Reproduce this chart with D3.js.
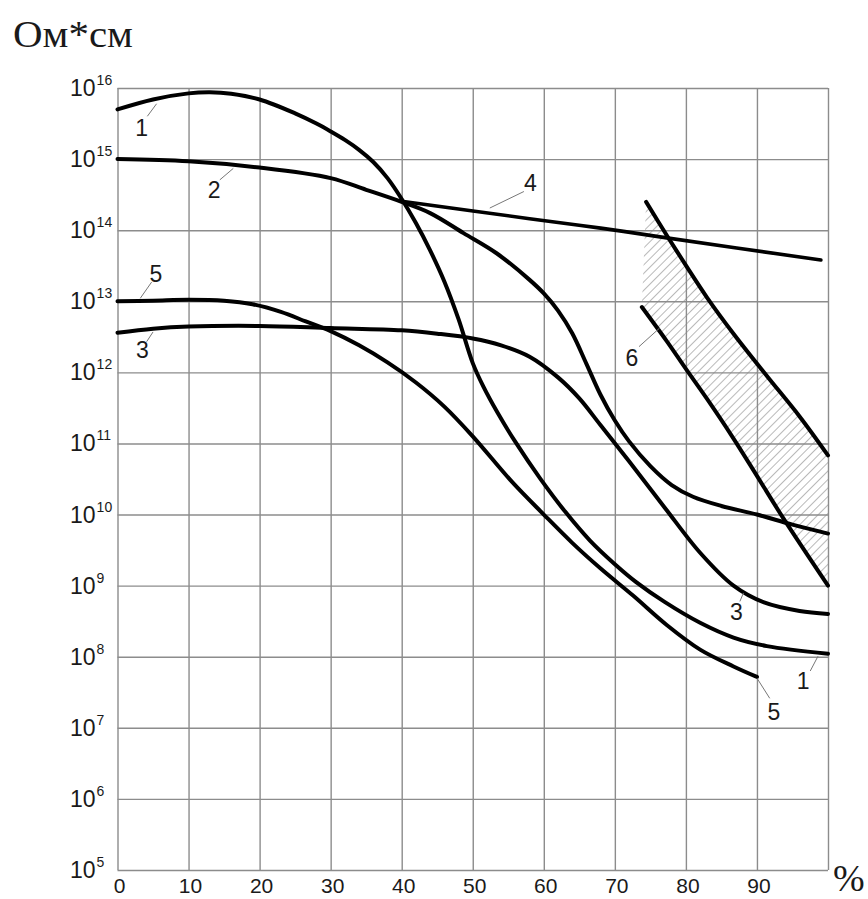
<!DOCTYPE html>
<html>
<head>
<meta charset="utf-8">
<script src="https://cdn.jsdelivr.net/npm/d3@7"></script>
<style>
  html, body { margin: 0; padding: 0; background: #fff; }
  svg { display: block; }
</style>
</head>
<body>
<svg id="chart" width="868" height="899"></svg>
<script>
// Resistivity (Ом*см) against content (%), log scale
const xTicks = [0, 10, 20, 30, 40, 50, 60, 70, 80, 90];
const yExponents = [5, 6, 7, 8, 9, 10, 11, 12, 13, 14, 15, 16];

const curve1 = [[0, 5.0e15], [5, 6.9e15], [10, 8.4e15], [13, 8.7e15], [16, 8.3e15], [20, 6.9e15],
  [25, 4.4e15], [28, 3.16e15], [30, 2.45e15], [32, 1.86e15], [34, 1.35e15], [36, 9.1e14],
  [38, 5.4e14], [40, 2.75e14], [42, 1.26e14], [44, 5.2e13], [46, 1.9e13], [48, 5.6e12],
  [50, 1.35e12], [51.5, 6.3e11], [53.5, 2.7e11], [56, 1.05e11], [59.5, 3.2e10], [63, 1.1e10],
  [66.5, 4.3e9], [70, 2.0e9], [73, 1.12e9], [77, 5.9e8], [82, 3.0e8], [86.7, 1.86e8],
  [91.4, 1.41e8], [100, 1.1e8]];

const curve2 = [[0, 1.0e15], [10, 9.3e14], [20, 7.6e14], [30, 5.4e14], [35, 3.7e14], [40, 2.5e14],
  [44, 1.74e14], [48.7, 9.1e13], [53.4, 4.7e13], [58, 2.0e13], [60, 1.29e13], [62, 7.4e12],
  [64, 3.55e12], [66, 1.32e12], [68, 4.8e11], [70, 2.1e11], [72, 1.07e11], [75, 4.8e10],
  [78, 2.6e10], [81, 1.78e10], [85, 1.32e10], [90, 1.0e10], [95, 7.2e9], [100, 5.4e9]];

const curve3 = [[0, 3.6e12], [5, 4.1e12], [10, 4.4e12], [20, 4.5e12], [30, 4.2e12], [40, 3.9e12],
  [45, 3.5e12], [50, 3.0e12], [54, 2.4e12], [58, 1.66e12], [62, 8.5e11], [65, 4.3e11], [68, 1.8e11],
  [72, 5.6e10], [77, 1.26e10], [82, 2.9e9], [86.7, 1.0e9], [91, 5.8e8], [96, 4.4e8], [100, 4.0e8]];

const curve4 = [[40, 2.55e14], [58, 1.45e14], [68, 1.07e14], [77.3, 7.8e13], [99, 3.8e13]];

const curve5 = [[0, 1.0e13], [5, 1.02e13], [10, 1.05e13], [15, 1.02e13], [19, 9.1e12], [23, 7.1e12],
  [26.5, 5.2e12], [30, 3.8e12], [34, 2.4e12], [38, 1.38e12], [42, 7.2e11], [46, 3.3e11],
  [50, 1.26e11], [55.5, 2.9e10], [60, 1.0e10], [64, 4.0e9], [68, 1.74e9], [72.6, 7.2e8],
  [77.3, 2.8e8], [82, 1.26e8], [86.7, 7.3e7], [90, 5.2e7]];

// band 6: upper and lower bounds
const curve6Upper = [[74.4, 2.5e14], [77.3, 8.5e13], [80, 3.2e13], [83, 1.12e13], [86.7, 3.5e12],
  [91.4, 8.9e11], [96, 2.4e11], [100, 6.8e10]];
const curve6Lower = [[73.8, 8.3e12], [77.3, 2.75e12], [80, 1.12e12], [83, 4.2e11], [86.5, 1.26e11],
  [90, 3.5e10], [93.7, 8.9e9], [100, 1.0e9]];

// curve numbers: text, text centre, leader start, leader end (data units)
const curveLabels = [
  { text: "1", at: [3.4, 2.75e15], from: [4.2, 4.0e15], to: [5.5, 6.0e15] },
  { text: "2", at: [13.6, 3.7e14], from: [14.4, 5.1e14], to: [16.3, 7.4e14] },
  { text: "5", at: [5.4, 2.45e13], from: [4.8, 1.86e13], to: [3.2, 1.1e13] },
  { text: "3", at: [3.5, 2.1e12], from: [4.1, 2.7e12], to: [5.0, 3.7e12] },
  { text: "4", at: [58.1, 4.6e14], from: [57.2, 3.5e14], to: [52.4, 2.05e14] },
  { text: "6", at: [72.4, 1.6e12], from: [73.4, 2.3e12], to: [76.3, 4.2e12] },
  { text: "3", at: [87.1, 4.3e8], from: [87.6, 6.0e8], to: [88.1, 7.9e8] },
  { text: "1", at: [96.5, 4.6e7], from: [97.5, 6.3e7], to: [98.6, 1.02e8] },
  { text: "5", at: [92.4, 1.7e7], from: [91.8, 2.6e7], to: [90.0, 5.0e7] }
];

const svg = d3.select("#chart");
const plotLeft = 117.5, plotRight = 828, plotTop = 88, plotBottom = 870;

const x = d3.scaleLinear().domain([0, 100]).range([plotLeft, plotRight]);
const y = d3.scaleLog().domain([1e5, 1e16]).range([plotBottom, plotTop]);

// grid
const gridColor = "#8c8c8c";
svg.append("g")
  .attr("transform", `translate(0,${plotBottom})`)
  .call(d3.axisBottom(x).tickValues(d3.range(0, 101, 10)).tickSize(-(plotBottom - plotTop)).tickFormat(""))
  .call(g => g.select(".domain").remove())
  .call(g => g.selectAll("line").attr("stroke", gridColor).attr("stroke-width", 1.4));

svg.append("g")
  .attr("transform", `translate(${plotLeft},0)`)
  .call(d3.axisLeft(y).tickValues(yExponents.map(e => Math.pow(10, e))).tickSize(-(plotRight - plotLeft)).tickFormat(""))
  .call(g => g.select(".domain").remove())
  .call(g => g.selectAll("line").attr("stroke", gridColor).attr("stroke-width", 1.4));

// hatched region of band 6
const defs = svg.append("defs");
defs.append("pattern")
  .attr("id", "hatch")
  .attr("patternUnits", "userSpaceOnUse")
  .attr("width", 6).attr("height", 6)
  .attr("patternTransform", "rotate(45)")
  .append("line")
  .attr("x1", 0).attr("y1", 0).attr("x2", 0).attr("y2", 6)
  .attr("stroke", "#8a8a8a").attr("stroke-width", 1.2);

const line = d3.line()
  .x(d => x(d[0]))
  .y(d => y(d[1]))
  .curve(d3.curveCatmullRom.alpha(0.5));

const upperPath = line(curve6Upper);
const lowerPath = line(curve6Lower.slice().reverse());
svg.append("path")
  .attr("d", upperPath + "L" + lowerPath.slice(1) + "Z")
  .attr("fill", "url(#hatch)")
  .attr("stroke", "none");

// curves
const curves = [curve1, curve2, curve3, curve4, curve5, curve6Upper, curve6Lower];
svg.append("g")
  .selectAll("path")
  .data(curves)
  .join("path")
  .attr("d", d => line(d))
  .attr("fill", "none")
  .attr("stroke", "#000")
  .attr("stroke-width", (d, i) => i === 3 ? 3.6 : 4)
  .attr("stroke-linecap", "round")
  .attr("stroke-linejoin", "round");

// y tick labels 10^n
const yLab = svg.append("g")
  .attr("font-family", "'Liberation Sans', Arial, sans-serif")
  .attr("fill", "#1a1a1a");
yExponents.forEach(e => {
  const t = yLab.append("text")
    .attr("x", 70)
    .attr("y", y(Math.pow(10, e)) + 8)
    .attr("font-size", 23);
  t.append("tspan").text("10");
  t.append("tspan")
    .attr("dx", 1)
    .attr("dy", -11)
    .attr("font-size", 14)
    .text(String(e));
});

// x tick labels
svg.append("g")
  .attr("font-family", "'Liberation Sans', Arial, sans-serif")
  .attr("fill", "#1a1a1a")
  .selectAll("text")
  .data(xTicks)
  .join("text")
  .attr("x", d => x(d) + 2)
  .attr("y", 893)
  .attr("text-anchor", "middle")
  .attr("font-size", 21)
  .text(d => String(d));

// axis units
svg.append("text")
  .attr("x", 833)
  .attr("y", 891)
  .attr("font-family", "'Liberation Serif', 'Times New Roman', serif")
  .attr("font-size", 38)
  .attr("fill", "#1a1a1a")
  .text("%");

svg.append("text")
  .attr("x", 13)
  .attr("y", 47)
  .attr("font-family", "'Liberation Serif', 'Times New Roman', serif")
  .attr("font-size", 37)
  .attr("fill", "#1a1a1a")
  .attr("textLength", 120)
  .attr("lengthAdjust", "spacingAndGlyphs")
  .text("Ом*см");

// curve numbers with leader lines
const notes = svg.append("g");
notes.selectAll("line")
  .data(curveLabels)
  .join("line")
  .attr("x1", d => x(d.from[0])).attr("y1", d => y(d.from[1]))
  .attr("x2", d => x(d.to[0])).attr("y2", d => y(d.to[1]))
  .attr("stroke", "#777")
  .attr("stroke-width", 1);
notes.selectAll("text")
  .data(curveLabels)
  .join("text")
  .attr("x", d => x(d.at[0]))
  .attr("y", d => y(d.at[1]))
  .attr("dy", "0.36em")
  .attr("text-anchor", "middle")
  .attr("font-family", "'Liberation Sans', Arial, sans-serif")
  .attr("font-size", 23)
  .attr("fill", "#1a1a1a")
  .text(d => d.text);
</script>
</body>
</html>
